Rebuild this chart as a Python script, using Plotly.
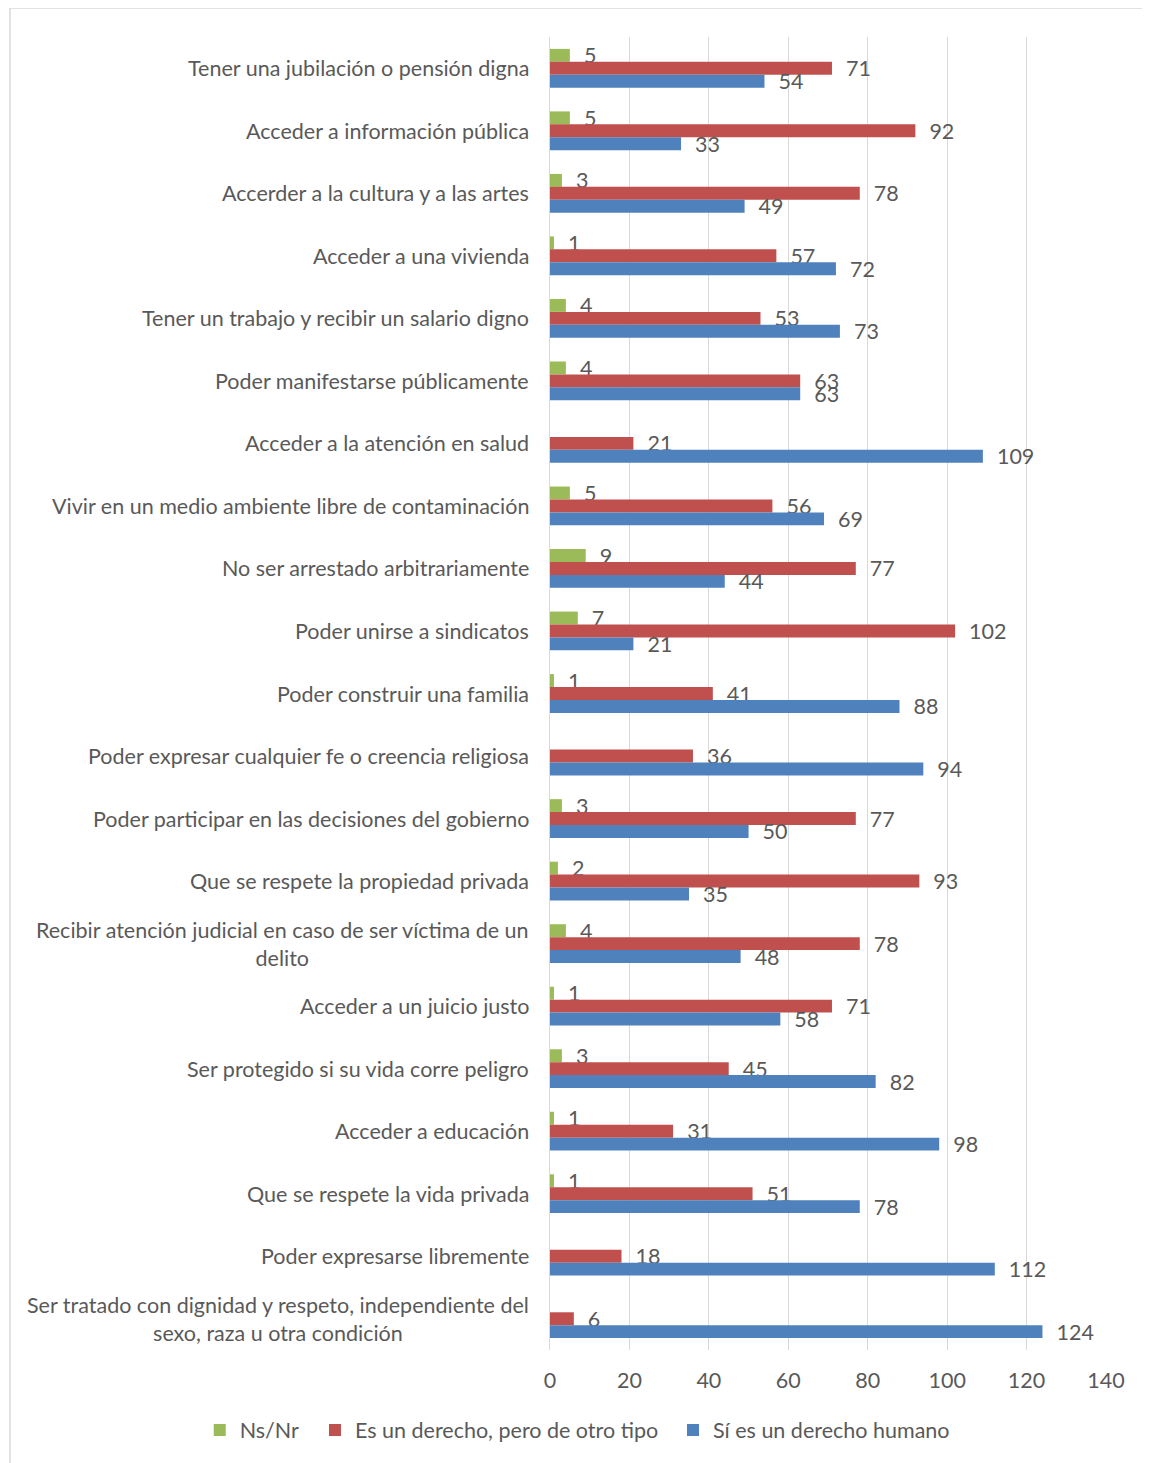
import plotly.graph_objects as go

categories = [
    "Tener una jubilación o pensión digna",
    "Acceder a información pública",
    "Accerder a la cultura y a las artes",
    "Acceder a una vivienda",
    "Tener un trabajo y recibir un salario digno",
    "Poder manifestarse públicamente",
    "Acceder a la atención en salud",
    "Vivir en un medio ambiente libre de contaminación",
    "No ser arrestado arbitrariamente",
    "Poder unirse a sindicatos",
    "Poder construir una familia",
    "Poder expresar cualquier fe o creencia religiosa",
    "Poder participar en las decisiones del gobierno",
    "Que se respete la propiedad privada",
    "Recibir atención judicial en caso de ser víctima de un<br>delito",
    "Acceder a un juicio justo",
    "Ser protegido si su vida corre peligro",
    "Acceder a educación",
    "Que se respete la vida privada",
    "Poder expresarse libremente",
    "Ser tratado con dignidad y respeto, independiente del<br>sexo, raza u otra condición",
]
ns_nr = [5, 5, 3, 1, 4, 4, None, 5, 9, 7, 1, None, 3, 2, 4, 1, 3, 1, 1, None, None]
otro_tipo = [71, 92, 78, 57, 53, 63, 21, 56, 77, 102, 41, 36, 77, 93, 78, 71, 45, 31, 51, 18, 6]
derecho_humano = [54, 33, 49, 72, 73, 63, 109, 69, 44, 21, 88, 94, 50, 35, 48, 58, 82, 98, 78, 112, 124]
x_ticks = [0, 20, 40, 60, 80, 100, 120, 140]

series = [
    ("Ns/Nr", ns_nr, "#9BBB59", "legend"),
    ("Es un derecho, pero de otro tipo", otro_tipo, "#C0504D", "legend2"),
    ("Sí es un derecho humano", derecho_humano, "#4F81BD", "legend3"),
]

FONT = "Lato"
FS = 21.5
TXT = "#595959"

fig = go.Figure()
for name, vals, color, leg in series:
    fig.add_trace(go.Bar(
        name=name, y=categories, x=vals, orientation="h", legend=leg,
        marker=dict(color=color, line=dict(width=0)),
        text=[("" if v is None else str(v)) for v in vals],
        texttemplate="  %{text}",
        textposition="outside", constraintext="none", cliponaxis=False,
        textfont=dict(family=FONT, size=FS, color=TXT),
    ))

for c in categories:
    fig.add_annotation(x=0, xref="paper", y=c, yref="y", text=c, showarrow=False,
                       xanchor="right", xshift=-19, align="center",
                       font=dict(family=FONT, size=FS, color=TXT))

fig.add_shape(type="rect", xref="paper", yref="paper", xsizemode="pixel", ysizemode="pixel",
              xanchor=0, yanchor=0, x0=-540, x1=598, y0=-118, y1=1342,
              line=dict(color="#D9D9D9", width=1.5), fillcolor="rgba(0,0,0,0)", layer="below")

leg_common = dict(orientation="h", y=-0.061, yanchor="middle", xanchor="left",
                  bgcolor="rgba(0,0,0,0)", font=dict(family=FONT, size=FS, color=TXT))

fig.update_layout(
    width=1150, height=1463,
    margin=dict(l=542, r=52, t=29, b=121, autoexpand=False),
    barmode="group", bargap=0.38, bargroupgap=0,
    paper_bgcolor="white", plot_bgcolor="white",
    font=dict(family=FONT, size=FS, color=TXT),
    legend=dict(x=-0.630, **leg_common),
    legend2=dict(x=-0.4227, **leg_common),
    legend3=dict(x=0.2212, **leg_common),
    xaxis=dict(range=[0, 140], tickvals=x_ticks, showgrid=True, gridcolor="#D9D9D9",
               gridwidth=1, zeroline=False, showline=False, ticks="outside", ticklen=11,
               tickcolor="rgba(0,0,0,0)", tickfont=dict(family=FONT, size=FS, color=TXT)),
    yaxis=dict(autorange="reversed", showticklabels=False, showgrid=False, zeroline=False,
               showline=True, linecolor="#D9D9D9", linewidth=1, ticks=""),
    showlegend=True,
)

fig.write_html("out.html")
